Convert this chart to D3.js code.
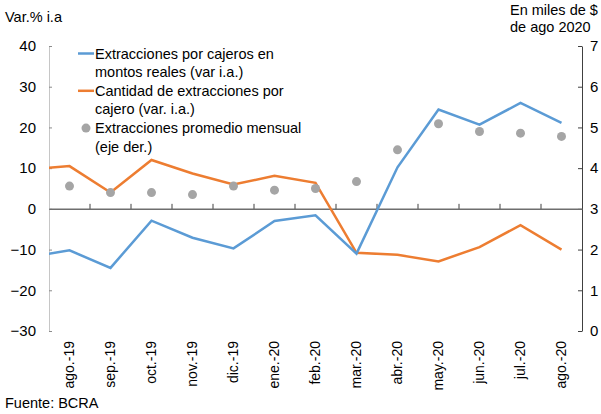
<!DOCTYPE html>
<html>
<head>
<meta charset="utf-8">
<script src="https://cdn.jsdelivr.net/npm/d3@7"></script>
<style>
  body { margin: 0; background: #fff; }
  svg { font-family: "Liberation Sans", Arial, sans-serif; }
</style>
</head>
<body>
<div id="chart"></div>
<script>
const width = 601,
  height = 414,
  margin = { top: 46, right: 19, bottom: 83, left: 49 };

// months shown on the axis
const months = ["ago.-19", "sep.-19", "oct.-19", "nov.-19", "dic.-19", "ene.-20",
  "feb.-20", "mar.-20", "abr.-20", "may.-20", "jun.-20", "jul.-20", "ago.-20"];
// the lines start from the previous month (jul.-19), cut at the axis
const prevMonth = "jul.-19";

// var % i.a. (left axis), first value = jul.-19
const montosReales = [-11.8, -10.2, -14.5, -2.9, -7.1, -9.7, -3.0, -1.6,
  -11.0, 10.2, 24.4, 20.7, 26.0, 21.1];
const cantidadPorCajero = [9.7, 10.5, 4.0, 12.0, 8.7, 6.0, 8.1, 6.4,
  -10.8, -11.3, -12.9, -9.4, -4.0, -10.0];
// miles de $ de ago 2020 (right axis)
const promedioMensual = [3.56, 3.40, 3.40, 3.35, 3.56, 3.46, 3.50,
  3.67, 4.45, 5.09, 4.90, 4.86, 4.78];

const leftTicks = [-30, -20, -10, 0, 10, 20, 30, 40];
const rightTicks = [0, 1, 2, 3, 4, 5, 6, 7];

const blue = "#5b9bd5", orange = "#ed7d31", gray = "#a5a5a5";

const svg = d3.select("#chart").append("svg")
  .attr("width", width).attr("height", height);

const x0 = margin.left, x1 = width - margin.right;

const x = d3.scaleBand().domain(months).range([x0, x1]);
const bw = x.bandwidth();
const xLine = d3.scalePoint()
  .domain([prevMonth, ...months])
  .range([x0 - bw / 2, x1 - bw / 2]);

const yL = d3.scaleLinear().domain([-30, 40]).range([height - margin.bottom, margin.top]);
const yR = d3.scaleLinear().domain([0, 7]).range([height - margin.bottom, margin.top]);

// left axis (dotted look)
const gL = svg.append("g")
  .attr("transform", `translate(${x0},0)`)
  .call(d3.axisRight(yL).tickValues(leftTicks).tickSizeInner(3).tickSizeOuter(0).tickFormat(d3.format("d")));
gL.select(".domain").attr("stroke", "#8c8c8c").attr("stroke-dasharray", "1,1");
gL.selectAll(".tick line").attr("stroke", "#8c8c8c");
gL.selectAll(".tick text")
  .attr("x", -13).attr("text-anchor", "end")
  .attr("font-size", 15).attr("fill", "#000");

// right axis
const gR = svg.append("g")
  .attr("transform", `translate(${x1},0)`)
  .call(d3.axisRight(yR).tickValues(rightTicks).tickSizeInner(-4).tickSizeOuter(0)
    .tickPadding(8).tickFormat(d3.format("d")));
gR.select(".domain").attr("stroke", "#404040");
gR.selectAll(".tick line").attr("stroke", "#404040");
gR.selectAll(".tick text").attr("font-size", 15).attr("fill", "#000");

// zero line with category ticks
const gX = svg.append("g")
  .attr("transform", `translate(0,${yL(0)})`)
  .call(d3.axisTop(x).tickSizeInner(0).tickSizeOuter(0).tickFormat(""));
gX.select(".domain").attr("stroke", "#6e6e6e").attr("stroke-width", 1.5);
gX.selectAll(".tick").remove();
gX.selectAll(".cat-tick")
  .data(months.slice(1))
  .join("line")
  .attr("x1", (d) => x(d)).attr("x2", (d) => x(d))
  .attr("y1", -5).attr("y2", 0)
  .attr("stroke", "#404040");

// month labels (rotated)
svg.append("g").selectAll("text")
  .data(months)
  .join("text")
  .attr("transform", (d) => `translate(${x(d) + bw / 2},341) rotate(-90)`)
  .attr("text-anchor", "end")
  .attr("dy", "0.35em")
  .attr("font-size", 14)
  .text((d) => d);

// clip lines at the plot edges
svg.append("clipPath").attr("id", "plot")
  .append("rect")
  .attr("x", x0).attr("y", 0)
  .attr("width", x1 - x0).attr("height", height);

const allMonths = [prevMonth, ...months];
const line = d3.line()
  .x((d, i) => xLine(allMonths[i]))
  .y((d) => yL(d));

svg.append("path")
  .datum(cantidadPorCajero)
  .attr("clip-path", "url(#plot)")
  .attr("fill", "none").attr("stroke", orange).attr("stroke-width", 2.5)
  .attr("d", line);

svg.append("path")
  .datum(montosReales)
  .attr("clip-path", "url(#plot)")
  .attr("fill", "none").attr("stroke", blue).attr("stroke-width", 2.5)
  .attr("d", line);

svg.append("g").selectAll("circle")
  .data(promedioMensual)
  .join("circle")
  .attr("cx", (d, i) => x(months[i]) + bw / 2)
  .attr("cy", (d) => yR(d))
  .attr("r", 4.5)
  .attr("fill", gray);

// legend
const legend = svg.append("g").attr("font-size", 14.5);
const items = [
  { type: "line", color: blue, lines: ["Extracciones por cajeros en", "montos reales (var i.a.)"] },
  { type: "line", color: orange, lines: ["Cantidad de extracciones por", "cajero (var. i.a.)"] },
  { type: "dot", color: gray, lines: ["Extracciones promedio mensual", "(eje der.)"] }
];
items.forEach((it, k) => {
  const yc = 53.5 + k * 37.3;
  if (it.type === "line") {
    legend.append("line")
      .attr("x1", 78).attr("x2", 94).attr("y1", yc).attr("y2", yc)
      .attr("stroke", it.color).attr("stroke-width", 2.5);
  } else {
    legend.append("circle").attr("cx", 86).attr("cy", yc).attr("r", 4.5).attr("fill", it.color);
  }
  it.lines.forEach((t, j) => {
    legend.append("text")
      .attr("x", 95).attr("y", yc + 5 + j * 18.5)
      .text(t);
  });
});

// titles
svg.append("text").attr("x", 5).attr("y", 22).attr("font-size", 14.5).text("Var.% i.a");
svg.append("text").attr("x", 510).attr("y", 15).attr("font-size", 14.5).text("En miles de $");
svg.append("text").attr("x", 510).attr("y", 32).attr("font-size", 14.5).text("de ago 2020");
svg.append("text").attr("x", 5).attr("y", 408).attr("font-size", 14.5).text("Fuente: BCRA");
</script>
</body>
</html>
